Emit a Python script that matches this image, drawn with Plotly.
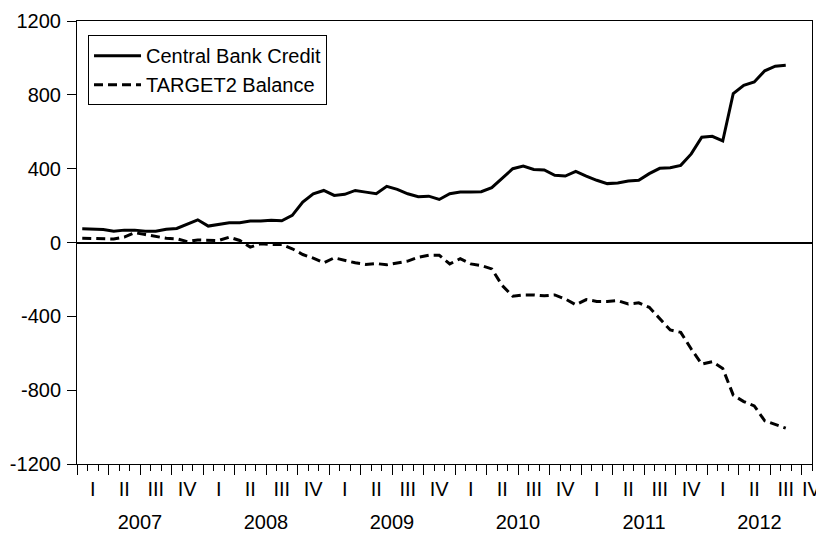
import plotly.graph_objects as go

# Monthly observations, 2007M01 .. 2012M08
months = [f"{2007 + i // 12}M{i % 12 + 1:02d}" for i in range(68)]

central_bank_credit = [
    74, 74, 70, 61, 67, 67, 61, 61, 72, 76, 101, 123,
    89, 96, 107, 107, 116, 116, 121, 118, 147, 219, 264, 282,
    255, 261, 282, 273, 264, 304, 288, 264, 248, 251, 233, 264,
    273, 273, 275, 297, 351, 400, 414, 396, 393, 364, 360, 385,
    360, 337, 319, 322, 333, 337, 373, 402, 405, 418, 480, 570,
    575, 550, 807, 852, 870, 930, 955, 960,
]

target2_balance = [
    23, 23, 20, 19, 29, 53, 43, 33, 23, 20, 5, 14,
    11, 11, 29, 11, -25, -7, -11, -11, -34, -65, -85, -110,
    -83, -98, -110, -119, -114, -121, -110, -101, -80, -69, -69, -116,
    -88, -116, -125, -143, -233, -291, -284, -284, -289, -284, -306, -337,
    -309, -319, -319, -315, -333, -327, -351, -414, -474, -487, -577, -659,
    -646, -682, -827, -862, -885, -966, -984, -1006,
]

years = ["2007", "2008", "2009", "2010", "2011", "2012"]
quarter_names = ["I", "II", "III", "IV"]
n_axis_months = 70  # axis runs 2007M01 .. 2012M10
y_ticks = [1200, 800, 400, 0, -400, -800, -1200]
y_tick_text = ["1200", "800", "400", "0", "-400", "-800", "-1200"]

x = list(range(len(months)))

FONT = "Liberation Sans, Arial, sans-serif"
FS = 20

fig = go.Figure()
fig.add_trace(go.Scatter(
    x=x, y=central_bank_credit, mode="lines", name="Central Bank Credit",
    line=dict(color="black", width=3),
))
fig.add_trace(go.Scatter(
    x=x, y=target2_balance, mode="lines", name="TARGET2 Balance",
    line=dict(color="black", width=3, dash="9px,5px"),
))

month_bounds = [k - 0.5 for k in range(n_axis_months + 1)]
quarter_bounds = [k - 0.5 for k in range(0, n_axis_months + 1, 3)]

q_vals, q_text = [], []
for q in range(n_axis_months // 3 + 1):
    start = 3 * q
    if start >= n_axis_months:
        break
    end = min(3 * q + 3, n_axis_months)
    c = (start + end - 1) / 2
    if end - start < 3:
        c = n_axis_months - 0.55
    q_vals.append(c)
    q_text.append(quarter_names[q % 4])

y_vals = []
for yi in range(len(years)):
    start = 12 * yi
    end = min(12 * yi + 12, n_axis_months)
    y_vals.append((start + end - 1) / 2)

rng = [-0.5, n_axis_months - 0.5]

# the page body adds an 8 px offset, so the figure is 8 px smaller
fig.update_layout(
    width=816, height=527,
    margin=dict(l=69, r=12, t=13, b=71, autoexpand=False),
    paper_bgcolor="white", plot_bgcolor="white",
    font=dict(family=FONT, size=FS, color="black"),
    showlegend=True,
    legend=dict(
        x=0.015, y=0.968, xanchor="left", yanchor="top",
        bordercolor="black", borderwidth=1, bgcolor="white",
        font=dict(family=FONT, size=FS, color="black"),
        itemwidth=47, tracegroupgap=0,
    ),
    xaxis=dict(
        range=rng, showgrid=False, zeroline=False, automargin=False,
        showline=True, linecolor="black", linewidth=1, mirror=True,
        tickmode="array", tickvals=quarter_bounds, ticks="outside",
        ticklen=10, tickwidth=1, tickcolor="black", showticklabels=False,
        minor=dict(tickmode="array", tickvals=month_bounds, ticks="outside",
                   ticklen=6, tickwidth=1, tickcolor="black", showgrid=False),
    ),
    xaxis2=dict(
        range=rng, overlaying="x", anchor="y", side="bottom", automargin=False,
        showgrid=False, zeroline=False, showline=False,
        tickmode="array", tickvals=q_vals, ticktext=q_text, ticks="",
        ticklabelstandoff=11, tickfont=dict(family=FONT, size=FS),
    ),
    xaxis3=dict(
        range=rng, overlaying="x", anchor="y", side="bottom", automargin=False,
        showgrid=False, zeroline=False, showline=False,
        tickmode="array", tickvals=y_vals, ticktext=years, ticks="",
        ticklabelstandoff=44, tickfont=dict(family=FONT, size=FS),
    ),
    yaxis=dict(
        range=[-1200, 1200], showgrid=False, automargin=False,
        zeroline=True, zerolinecolor="black", zerolinewidth=1.5,
        showline=True, linecolor="black", linewidth=1, mirror=True,
        tickmode="array", tickvals=y_ticks, ticktext=y_tick_text, ticks="outside",
        ticklen=9, tickwidth=1, tickcolor="black", ticklabelstandoff=2,
        tickfont=dict(family=FONT, size=FS),
    ),
)

# invisible traces that activate the overlay label axes
fig.add_trace(go.Scatter(x=[None], y=[None], xaxis="x2", showlegend=False, hoverinfo="skip"))
fig.add_trace(go.Scatter(x=[None], y=[None], xaxis="x3", showlegend=False, hoverinfo="skip"))

fig.write_html("out.html")
